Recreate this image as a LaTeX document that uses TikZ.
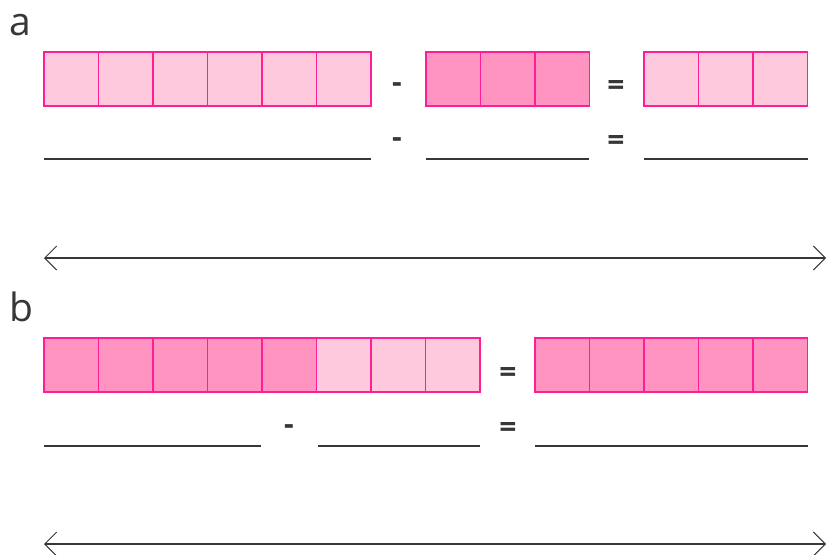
\documentclass[tikz,border=0pt]{standalone}
\usepackage{fontspec}
\setmainfont{Open Sans}
\usepackage{xcolor}
\usetikzlibrary{arrows.meta}
\definecolor{pinkLight}{RGB}{255,201,221}
\definecolor{pinkDark}{RGB}{255,148,192}
\definecolor{pinkEdge}{RGB}{255,30,150}
\definecolor{inkGray}{RGB}{55,55,55}

\begin{document}
\begin{tikzpicture}[x=1pt, y=-1pt,
    cell/.style={inner sep=0pt, outer sep=0pt, minimum width=54.5pt, minimum height=54pt},
    cellLight/.style={cell, fill=pinkLight},
    cellDark/.style={cell, fill=pinkDark},
    cellEdge/.style={draw=pinkEdge, line width=1.4pt},
    blank/.style={draw=inkGray, line width=1.5pt},
    sign/.style={font=\fontsize{30}{30}\selectfont\bfseries, text=inkGray, inner sep=0pt},
    partLabel/.style={font=\fontsize{39}{39}\selectfont, text=inkGray, inner sep=0pt, anchor=base west},
    numLine/.style={draw=inkGray, line width=1.3pt, {Straight Barb[length=12pt, width=24pt, line width=1pt]}-{Straight Barb[length=12pt, width=24pt, line width=1pt]}}]
    \useasboundingbox (0,0) rectangle (826,554);
    \def\cellW{54.5}
    % Part a
    \node[partLabel] (labA) at (9,35) {a};
    \foreach \i in {1,...,6}
      \node[cellLight] (a\i) at ({44+(\i-0.5)*\cellW}, 79) {};
    \node[sign] (minusA) at (397,88) {-};
    \foreach \i in {1,...,3}
      \node[cellDark] (b\i) at ({426+(\i-0.5)*\cellW}, 79) {};
    \node[sign] (eqA) at (616,88) {=};
    \foreach \i in {1,...,3}
      \node[cellLight] (c\i) at ({644+(\i-0.5)*\cellW}, 79) {};
    % cell borders a
    \foreach \i in {1,...,6}
      \draw[cellEdge] (a\i.north west) rectangle (a\i.south east);
    \foreach \i in {1,...,3}{
      \draw[cellEdge] (b\i.north west) rectangle (b\i.south east);
      \draw[cellEdge] (c\i.north west) rectangle (c\i.south east);
    }
    % blanks a
    \draw[blank] (44,159) -- (371,159);
    \node[sign] (minusA2) at (397,143) {-};
    \draw[blank] (426,159) -- (589,159);
    \node[sign] (eqA2) at (616,143) {=};
    \draw[blank] (644,159) -- (808,159);
    % number line a
    \coordinate (lineAL) at (44,258);
    \coordinate (lineAR) at (826,258);
    \draw[numLine] (lineAL) -- (lineAR);
    % Part b
    \node[partLabel] (labB) at (9,321) {b};
    \foreach \i in {1,...,8}{
      \ifnum\i<6
        \node[cellDark] (d\i) at ({44+(\i-0.5)*\cellW}, 365) {};
      \else
        \node[cellLight] (d\i) at ({44+(\i-0.5)*\cellW}, 365) {};
      \fi
    }
    \node[sign] (eqB) at (508,375) {=};
    \foreach \i in {1,...,5}
      \node[cellDark] (e\i) at ({535+(\i-0.5)*\cellW}, 365) {};
    % cell borders b
    \foreach \i in {1,...,8}
      \draw[cellEdge] (d\i.north west) rectangle (d\i.south east);
    \foreach \i in {1,...,5}
      \draw[cellEdge] (e\i.north west) rectangle (e\i.south east);
    % blanks b
    \draw[blank] (44,446) -- (261,446);
    \node[sign] (minusB) at (289,430) {-};
    \draw[blank] (318,446) -- (480,446);
    \node[sign] (eqB2) at (508,430) {=};
    \draw[blank] (535,446) -- (808,446);
    % number line b
    \coordinate (lineBL) at (44,544);
    \coordinate (lineBR) at (826,544);
    \draw[numLine] (lineBL) -- (lineBR);
\end{tikzpicture}
\end{document}
